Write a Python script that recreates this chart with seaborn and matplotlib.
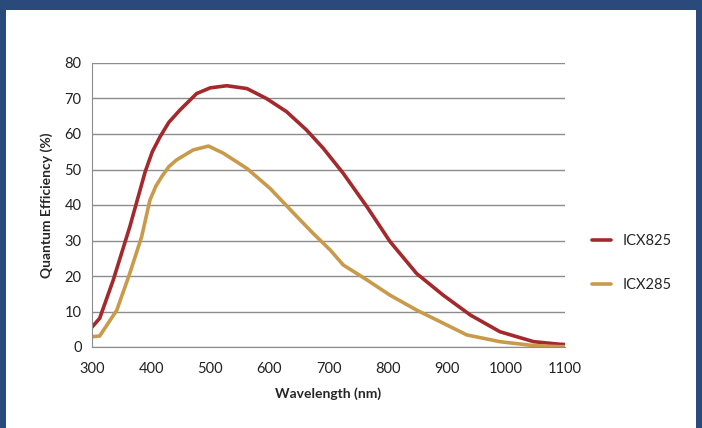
import matplotlib
matplotlib.use("Agg")
import matplotlib.pyplot as plt
import matplotlib.patches as mpatches
import pandas as pd
import seaborn as sns

# wavelength (nm) / quantum efficiency (%)
wl_825 = [300, 313, 336, 364, 390, 402, 415, 430, 449, 477, 500, 528, 562, 595, 629, 663,
          691, 725, 765, 804, 849, 894, 940, 990, 1047, 1089, 1100]
qe_825 = [5.6, 8.1, 18.9, 33.9, 49.4, 55.0, 59.2, 63.3, 66.8, 71.4, 73.0, 73.6, 72.8, 70.0,
          66.3, 61.1, 56.0, 48.9, 39.5, 29.7, 20.7, 14.6, 9.0, 4.3, 1.5, 0.8, 0.7]

wl_285 = [300, 313, 342, 364, 384, 398, 408, 418, 430, 443, 471, 497, 522, 562, 601, 641,
          674, 703, 725, 765, 804, 849, 894, 934, 990, 1047, 1089, 1100]
qe_285 = [2.9, 3.1, 10.4, 20.8, 31.1, 41.4, 45.3, 48.0, 50.8, 52.7, 55.5, 56.6, 54.6, 50.3,
          44.7, 37.7, 32.0, 27.3, 23.1, 18.9, 14.6, 10.4, 6.7, 3.4, 1.5, 0.4, 0.1, 0.1]

x_ticks = [300, 400, 500, 600, 700, 800, 900, 1000, 1100]
y_ticks = [0, 10, 20, 30, 40, 50, 60, 70, 80]

df = pd.concat([
    pd.DataFrame({"wl": wl_825, "qe": qe_825, "sensor": "ICX825"}),
    pd.DataFrame({"wl": wl_285, "qe": qe_285, "sensor": "ICX285"}),
])

sns.set_style("white")
plt.rcParams["font.family"] = ["Lato", "DejaVu Sans"]

fig = plt.figure(figsize=(7.02, 4.28), dpi=100, facecolor="#2a4a7c")
# white card on the blue background
fig.patches.append(mpatches.Rectangle((6 / 702, 0), 690 / 702, 1 - 10 / 428,
                                      transform=fig.transFigure, facecolor="white",
                                      edgecolor="none", zorder=-10))
ax = fig.add_axes([92 / 702, 1 - 347 / 428, 473 / 702, 284 / 428])
ax.patch.set_alpha(0)

sns.lineplot(data=df, x="wl", y="qe", hue="sensor", sort=False, ax=ax,
             palette={"ICX825": "#a3292c", "ICX285": "#c99a4a"}, linewidth=2.6)

ax.set_xlim(300, 1100)
ax.set_ylim(0, 80)
ax.set_xticks(x_ticks)
ax.set_yticks(y_ticks)
ax.yaxis.grid(True, color="#8c8c8c", linewidth=1)
ax.set_axisbelow(True)
for side in ["top", "right"]:
    ax.spines[side].set_visible(False)
for side in ["left", "bottom"]:
    ax.spines[side].set_color("#8c8c8c")
ax.tick_params(axis="both", colors="#8c8c8c", labelcolor="#222222", labelsize=10.5,
               length=4, direction="out")
ax.tick_params(axis="x", pad=7)
ax.set_xlabel("Wavelength (nm)", fontsize=10, fontweight="bold", labelpad=8)
ax.set_ylabel("Quantum Efficiency (%)", fontsize=10, fontweight="bold", labelpad=8)

leg = ax.legend(loc="center left", bbox_to_anchor=(1.03, 0.296), frameon=False,
                fontsize=10.5, handlelength=1.3, labelspacing=2.1, title=None)

fig.savefig("out.png", dpi=100, facecolor=fig.get_facecolor())
